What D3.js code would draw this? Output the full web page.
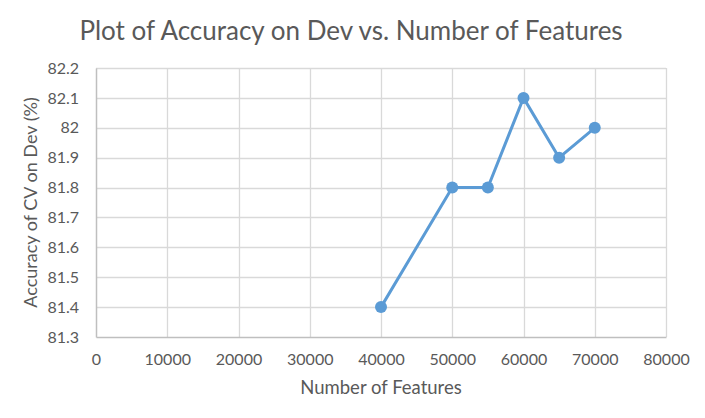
<!DOCTYPE html>
<html>
<head>
<meta charset="utf-8">
<script src="https://cdn.jsdelivr.net/npm/d3@7"></script>
<style>
    body { margin: 0; background: #fff; }
    text { font-family: Lato, "Open Sans", sans-serif; fill: #595959; }
</style>
</head>
<body>
<div id="chart"></div>
<script>
const features = [40000, 50000, 55000, 60000, 65000, 70000];
const accuracy = [81.4, 81.8, 81.8, 82.1, 81.9, 82.0];
const xTicks = [0, 10000, 20000, 30000, 40000, 50000, 60000, 70000, 80000];
const yTicks = [81.3, 81.4, 81.5, 81.6, 81.7, 81.8, 81.9, 82.0, 82.1, 82.2];

const data = features.map((f, i) => ({features: f, accuracy: accuracy[i]}));

const margin = {top: 68, right: 39, bottom: 81, left: 96};
const totalWidth = 705, totalHeight = 418;
const width = totalWidth - margin.left - margin.right;
const height = totalHeight - margin.top - margin.bottom;

const svg = d3.select("#chart").append("svg")
    .attr("width", totalWidth)
    .attr("height", totalHeight);

const g = svg.append("g")
    .attr("transform", `translate(${margin.left},${margin.top})`);

const x = d3.scaleLinear().domain([0, 80000]).range([0, width]);
const y = d3.scaleLinear().domain([81.3, 82.2]).range([height, 0]);

// gridlines
g.append("g")
    .selectAll("line.hgrid")
    .data(yTicks.slice(1))
    .enter().append("line")
    .attr("x1", 0).attr("x2", width)
    .attr("y1", d => Math.round(y(d)) + 0.5).attr("y2", d => Math.round(y(d)) + 0.5)
    .attr("stroke", "#d9d9d9").attr("stroke-width", 1.3);

g.append("g")
    .selectAll("line.vgrid")
    .data(xTicks.slice(1))
    .enter().append("line")
    .attr("x1", d => Math.round(x(d)) + 0.5).attr("x2", d => Math.round(x(d)) + 0.5)
    .attr("y1", 0).attr("y2", height)
    .attr("stroke", "#d9d9d9").attr("stroke-width", 1.3);

// axes
const xAxis = g.append("g")
    .attr("transform", `translate(0,${height})`)
    .call(d3.axisBottom(x).tickValues(xTicks).tickSize(0).tickPadding(17).tickFormat(d3.format("d")));
xAxis.select(".domain").attr("stroke", "#bfbfbf").attr("stroke-width", 1.5);
xAxis.selectAll("text").attr("font-size", 16).style("fill", "#595959");

const yAxis = g.append("g")
    .call(d3.axisLeft(y).tickValues(yTicks).tickSize(0).tickPadding(17).tickFormat(d => d3.format("")(+d.toFixed(1))));
yAxis.select(".domain").attr("stroke", "#bfbfbf").attr("stroke-width", 1.5);
yAxis.selectAll("text").attr("font-size", 16).style("fill", "#595959");

// line
const line = d3.line()
    .x(d => x(d.features))
    .y(d => y(d.accuracy));

g.append("path")
    .datum(data)
    .attr("fill", "none")
    .attr("stroke", "#5b9bd5")
    .attr("stroke-width", 3)
    .attr("stroke-linejoin", "round")
    .attr("d", line);

g.selectAll(".dot")
    .data(data)
    .enter().append("circle")
    .attr("class", "dot")
    .attr("cx", d => x(d.features))
    .attr("cy", d => y(d.accuracy))
    .attr("r", 6)
    .attr("fill", "#5b9bd5");

// titles
svg.append("text")
    .attr("x", 351)
    .attr("y", 40)
    .attr("text-anchor", "middle")
    .attr("font-size", 26)
    .text("Plot of Accuracy on Dev vs. Number of Features");

svg.append("text")
    .attr("x", margin.left + width / 2)
    .attr("y", 394)
    .attr("text-anchor", "middle")
    .attr("font-size", 18.5)
    .text("Number of Features");

svg.append("text")
    .attr("transform", "rotate(-90)")
    .attr("x", -(margin.top + height / 2))
    .attr("y", 37)
    .attr("text-anchor", "middle")
    .attr("font-size", 18)
    .text("Accuracy of CV on Dev (%)");
</script>
</body>
</html>
